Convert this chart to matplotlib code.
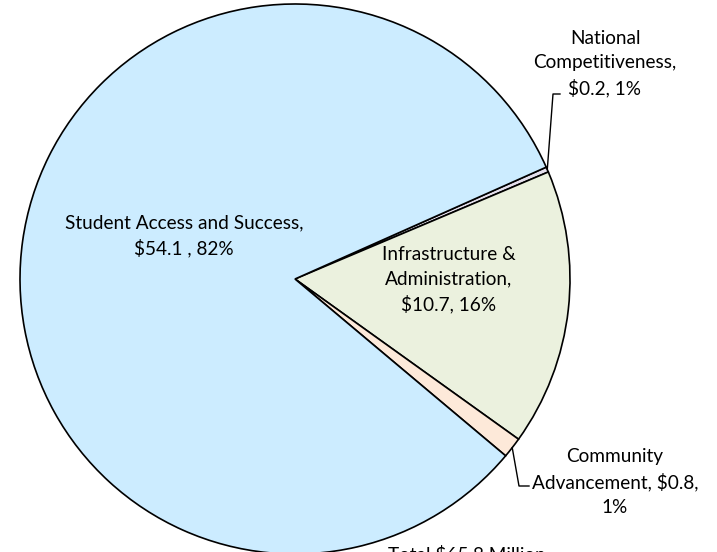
import numpy as np
import matplotlib.pyplot as plt

# budget by category, $ millions
categories = ["National Competitiveness", "Infrastructure & Administration",
              "Community Advancement", "Student Access and Success"]
amounts = [0.2, 10.7, 0.8, 54.1]
labels = ["National\nCompetitiveness,\n$0.2, 1%",
          "Infrastructure &\nAdministration,\n$10.7, 16%",
          "Community\nAdvancement, $0.8,\n1%",
          "Student Access and Success,\n$54.1 , 82%"]
total_label = "Total $65.8 Million"

colors = ["#E4DFEC", "#EBF1DE", "#FDE9D9", "#CCECFF"]

W, H = 717, 552
fig = plt.figure(figsize=(W / 100, H / 100), dpi=100)
ax = fig.add_axes([0, 0, 1, 1])

plt.rcParams["font.family"] = ["Lato", "DejaVu Sans"]

cx, cy, r = 295, 273, 275
wedges, _ = ax.pie(amounts, colors=colors, startangle=24, counterclock=False,
                   center=(cx, cy), radius=r, frame=True,
                   wedgeprops=dict(edgecolor="black", linewidth=1.2))
ax.set_xlim(0, W)
ax.set_ylim(0, H)
ax.set_aspect("equal")
ax.axis("off")

fs = 13.7
ls = 1.5
# labels inside
ax.text(184, 316, labels[3], ha="center", va="center", fontsize=fs, linespacing=ls)
ax.text(449, 272, labels[1], ha="center", va="center", fontsize=fs, linespacing=ls)
# labels outside with leader lines
ax.text(605, 488, labels[0], ha="center", va="center", fontsize=fs, linespacing=ls)
ax.text(615, 70, labels[2], ha="center", va="center", fontsize=fs, linespacing=ls)

def arc_point(w):
    a = np.deg2rad((w.theta1 + w.theta2) / 2)
    return cx + r * np.cos(a), cy + r * np.sin(a)

x0, y0 = arc_point(wedges[0])
ax.plot([x0, 553, 560], [y0, 458, 458], color="black", lw=1)
x1, y1 = arc_point(wedges[2])
ax.plot([x1, 519, 529], [y1, 66, 66], color="black", lw=1)

ax.text(388, 6, total_label, ha="left", va="top", fontsize=fs)

fig.savefig("out.png", dpi=100)
